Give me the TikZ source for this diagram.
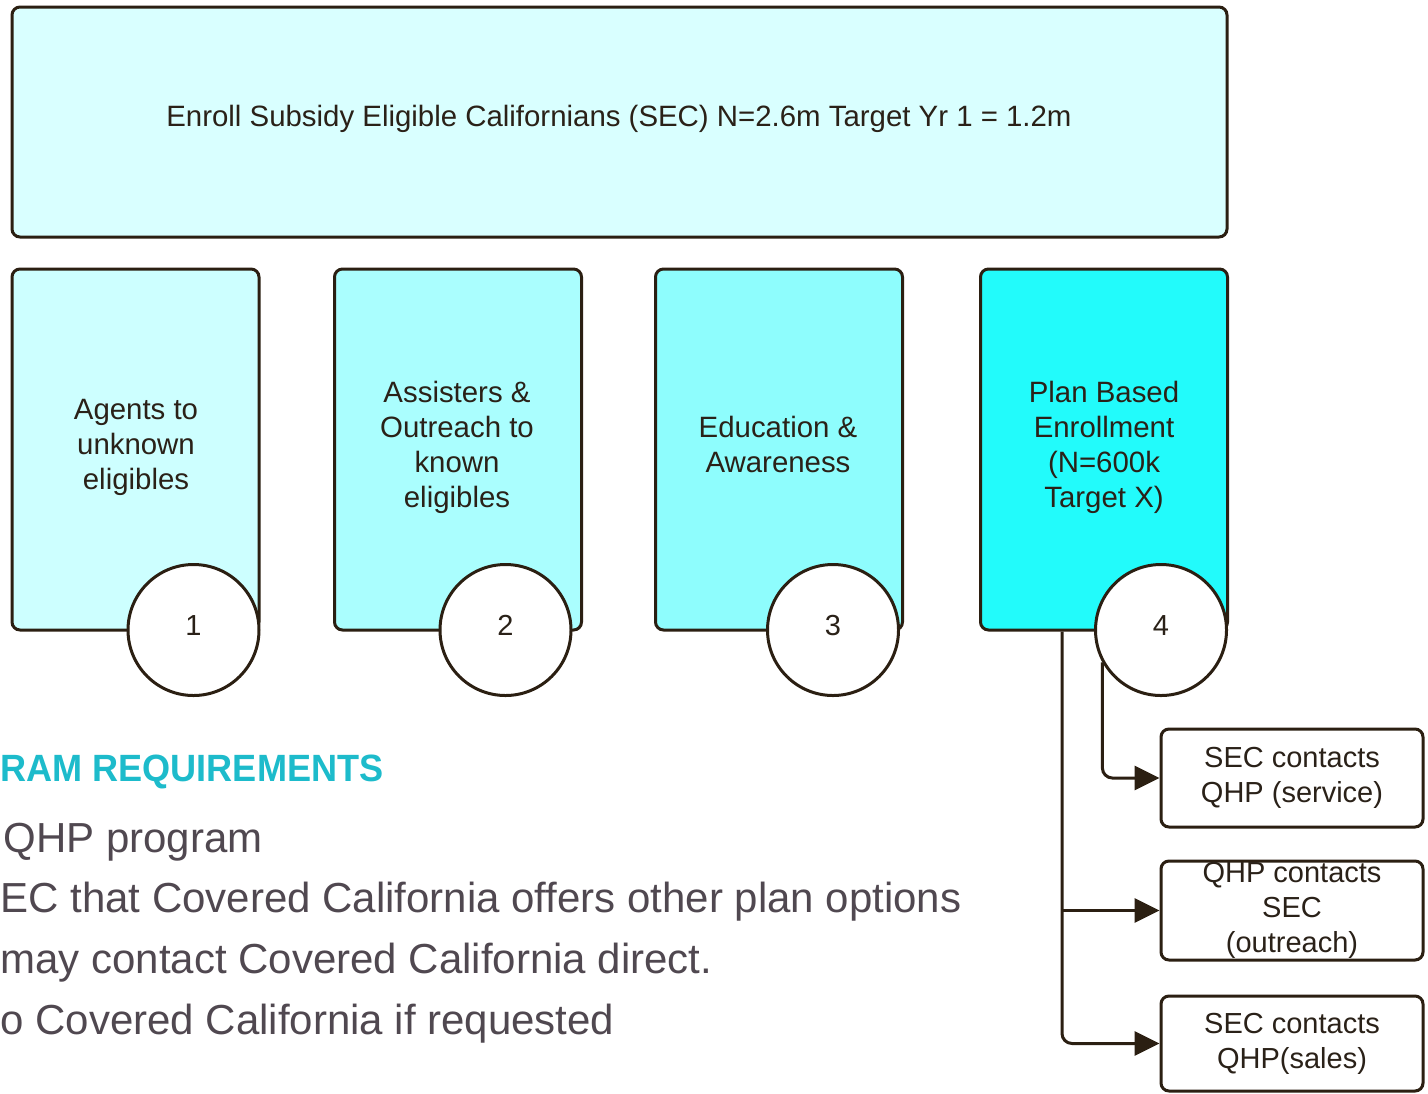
\documentclass[tikz,border=0pt]{standalone}
\usepackage{fontspec}
\setmainfont{Liberation Sans}
\usetikzlibrary{arrows.meta}
\definecolor{edge}{HTML}{2B1F12}
\definecolor{ink}{HTML}{2A2118}
\definecolor{topfill}{HTML}{D9FFFF}
\definecolor{fillA}{HTML}{CDFFFF}
\definecolor{fillB}{HTML}{AAFEFE}
\definecolor{fillC}{HTML}{8EFDFD}
\definecolor{fillD}{HTML}{22FBFB}
\definecolor{headcyan}{HTML}{1DBBCB}
\definecolor{bodygray}{HTML}{504850}
\tikzset{
  box/.style={draw=edge, line width=1.5pt, rounded corners=4pt, inner sep=0pt},
  colbox/.style={box, minimum width=123.5pt, minimum height=180.5pt},
  numcirc/.style={circle, draw=edge, line width=1.5pt, fill=white, minimum size=65.5pt, inner sep=0pt, text=ink, text height=10pt, text depth=4.5pt, font=\fontsize{14.5}{16}\selectfont},
  boxtext/.style={align=center, text=ink, font=\fontsize{14.7}{17.5}\selectfont, inner sep=0pt},
  sidebox/.style={box, fill=white, minimum width=131pt, text=ink, align=center, font=\fontsize{14.5}{17.5}\selectfont},
  conn/.style={draw=edge, line width=1.5pt, rounded corners=5pt},
  tip/.style={-{Triangle[length=12.5pt,width=12pt]}},
  body/.style={anchor=base west, inner sep=0pt, text=bodygray, font=\fontsize{21}{25}\selectfont}
}
\begin{document}
\begin{tikzpicture}[x=0.5pt,y=-0.5pt]
\useasboundingbox[fill=white] (0,0) rectangle (1428,1093);
% top box
\node[box, fill=topfill, minimum width=607.5pt, minimum height=115pt] (top) at (619.5,122) {};
\node[boxtext, font=\fontsize{14.7}{17}\selectfont] (toptxt) at (619,119) {Enroll Subsidy Eligible Californians (SEC) N=2.6m Target Yr 1 = 1.2m};
% column boxes
\node[colbox, fill=fillA] (b1) at (135.5,449.5) {};
\node[colbox, fill=fillB] (b2) at (458,449.5) {};
\node[colbox, fill=fillC] (b3) at (779,449.5) {};
\node[colbox, fill=fillD] (b4) at (1104,449.5) {};
\node[boxtext] (t1) at (136,447) {Agents to\\unknown\\eligibles};
\node[boxtext] (t2) at (457,447) {Assisters \&\\Outreach to\\known\\eligibles};
\node[boxtext] (t3) at (778,444) {Education \&\\Awareness};
\node[boxtext] (t4) at (1104,447) {Plan Based\\Enrollment\\(N=600k\\Target X)};
% circles
\node[numcirc] (c1) at (193.5,630) {1};
\node[numcirc] (c2) at (505.5,630) {2};
\node[numcirc] (c3) at (833,630) {3};
\node[numcirc] (c4) at (1161,630) {4};
% side boxes
\node[sidebox, minimum height=49pt] (sA) at (1292,778) {SEC contacts\\QHP (service)};
\node[sidebox, minimum height=49.5pt] (sB) at (1292,910.5) {QHP contacts\\SEC\\(outreach)};
\node[sidebox, minimum height=47.5pt] (sC) at (1292,1043.5) {SEC contacts\\QHP(sales)};
% connectors
\coordinate (j) at ([xshift=41.5pt]b4.south west);
\draw[conn, tip] (c4.209.6) |- (sA.west);
\draw[conn, tip] (j) |- (sC.west);
\draw[conn, tip] (j |- sB.west) -- (sB.west);
% requirements text
\node[anchor=base west, inner sep=0pt, text=headcyan, font=\fontsize{19}{22}\selectfont\bfseries] (head) at (0,781) {\scalebox{0.95}[1]{RAM REQUIREMENTS}};
\node[body] (r1) at (3,852) {QHP program};
\node[body] (r2) at (0,912) {EC that Covered California offers other plan options};
\node[body] (r3) at (0,973) {may contact Covered California direct.};
\node[body] (r4) at (0,1034) {o Covered California if requested};
\end{tikzpicture}
\end{document}
